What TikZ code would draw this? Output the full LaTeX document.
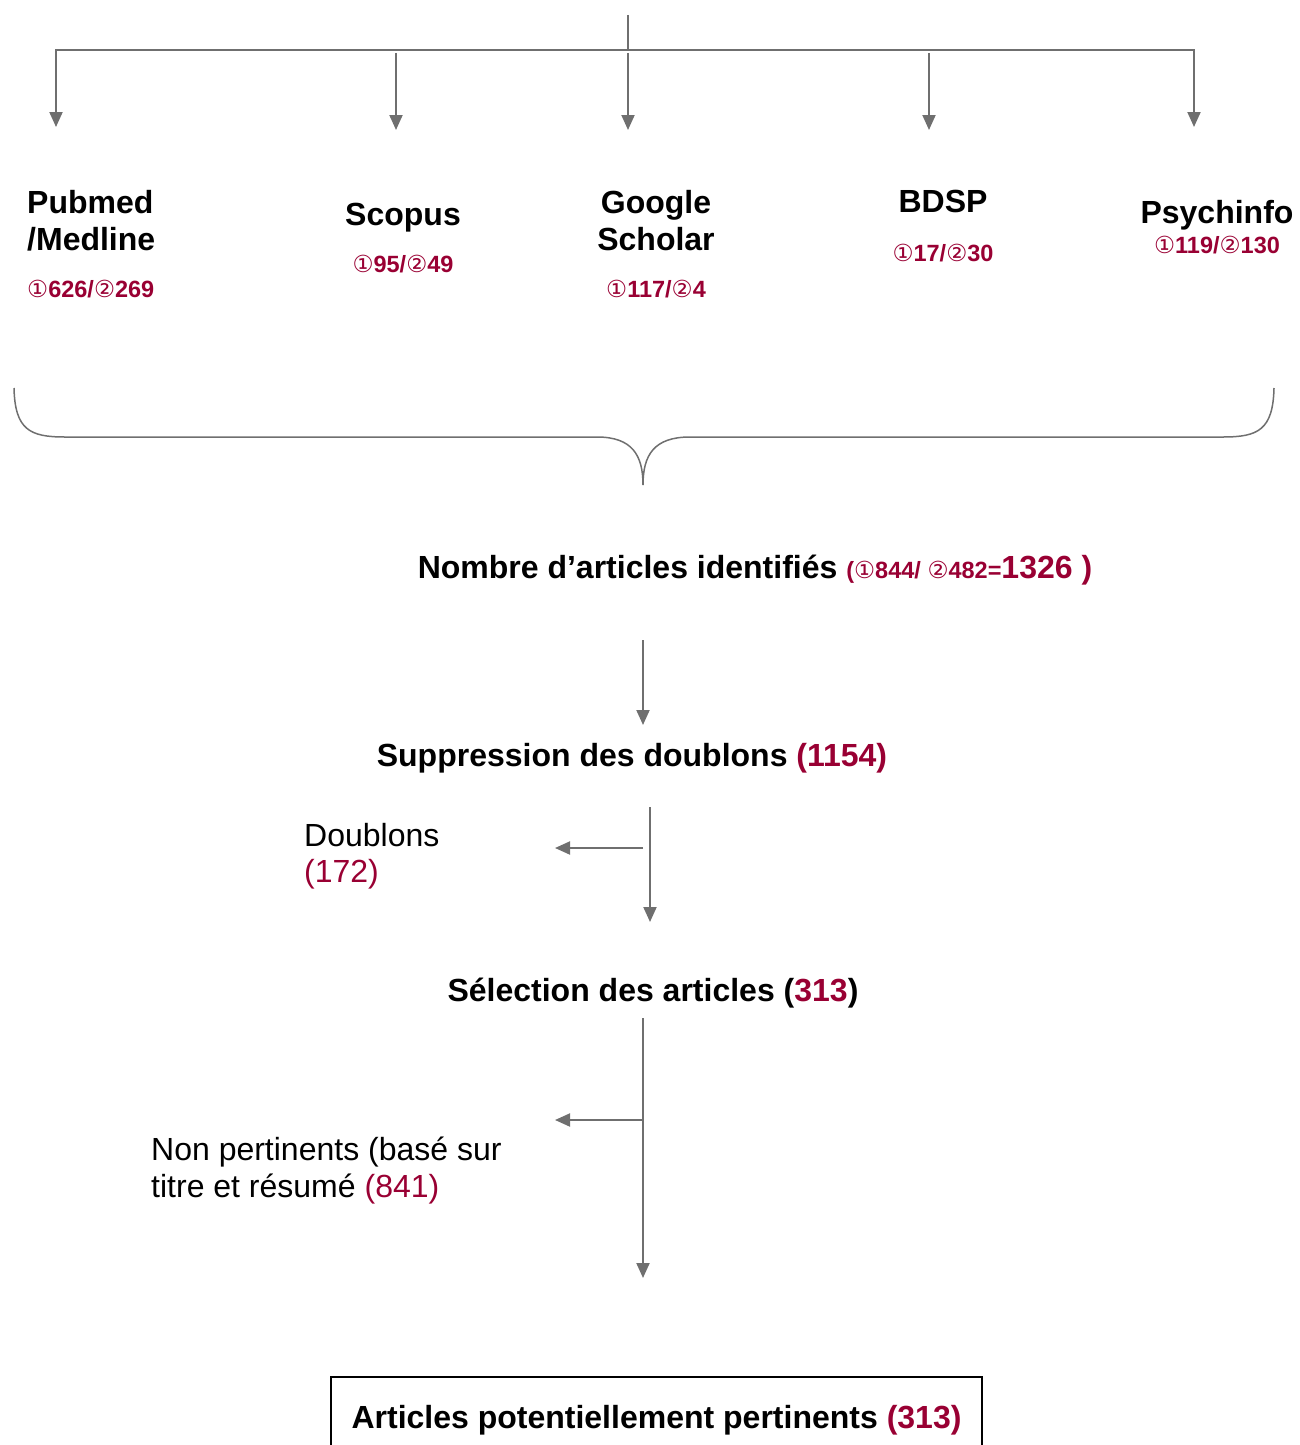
\documentclass[tikz,border=0pt]{standalone}
\usepackage{fontspec}
\setmainfont{Liberation Sans}
\newfontfamily\circfont{DejaVu Sans}
\usetikzlibrary{arrows.meta}
\definecolor{numred}{HTML}{990033}
\definecolor{linegray}{HTML}{6F6F6F}
\newcommand{\cone}{{\circfont\mdseries ①}}
\newcommand{\ctwo}{{\circfont\mdseries ②}}

\begin{document}
\begin{tikzpicture}
		[x=1pt,y=-1pt,
		src/.style={font=\fontsize{32}{37}\selectfont\bfseries, inner sep=0pt},
		cnt/.style={font=\fontsize{23.5}{27}\selectfont\bfseries, text=numred, inner sep=0pt},
		stage/.style={font=\fontsize{32}{37}\selectfont\bfseries, inner sep=0pt, anchor=base},
		note/.style={font=\fontsize{32}{37}\selectfont, inner sep=0pt, anchor=base west},
		arr/.style={draw=linegray, line width=2pt, -{Triangle[length=15pt,width=13pt]}},
		link/.style={draw=linegray, line width=2pt}]
		\clip (0,0) rectangle (1299,1445);

		% databases
		\node [src, anchor=base west] (pm1) at (27,213) {Pubmed};
		\node [src, anchor=base west] (pm2) at (27,250) {/Medline};
		\node [cnt, anchor=base west] (pmn) at (27,297) {\cone626/\ctwo269};
		\node [src, anchor=base] (sc1) at (403,225) {Scopus};
		\node [cnt, anchor=base] (scn) at (403,272) {\cone95/\ctwo49};
		\node [src, anchor=base] (gs1) at (656,213) {Google};
		\node [src, anchor=base] (gs2) at (656,250) {Scholar};
		\node [cnt, anchor=base] (gsn) at (656,297) {\cone117/\ctwo4};
		\node [src, anchor=base] (bd1) at (943,212) {BDSP};
		\node [cnt, anchor=base] (bdn) at (943,261) {\cone17/\ctwo30};
		\node [src, anchor=base] (ps1) at (1217,223) {Psychinfo};
		\node [cnt, anchor=base] (psn) at (1217,253) {\cone119/\ctwo130};

		\coordinate (top) at (628,15);
		\coordinate (hub) at (628,50);
		\coordinate (pme) at (56,127);
		\coordinate (pse) at (1194,127);
		\draw [link] (top) -- (hub);
		\draw [arr] (hub) -| (pme);
		\draw [arr] (hub) -| (pse);
		\foreach \n/\x in {sc/396,gs/628,bd/929}{
			\coordinate (\n a) at (\x,53);
			\coordinate (\n b) at (\x,130);
			\draw [arr] (\n a) -- (\n b);
		}

		% brace
		\coordinate (bl) at (14,388);
		\coordinate (br) at (1274,388);
		\coordinate (bt) at (643,485);
		\draw [linegray, line width=1.5pt] (bl) .. controls (15,430) and (30,437) .. (65,437) -- (597,437) .. controls (632,437) and (643,455) .. (bt);
		\draw [linegray, line width=1.5pt] (br) .. controls (1273,430) and (1258,437) .. (1223,437) -- (690,437) .. controls (654,437) and (643,455) .. (bt);

		% steps
		\node [stage] (ident) at (755,578) {Nombre d’articles identifiés {\color{numred}\fontsize{23.5}{27}\selectfont(\cone844/ \ctwo482=\fontsize{32}{37}\selectfont1326 )}};
		\node [stage] (dedup) at (632,766) {Suppression des doublons \textcolor{numred}{(1154)}};
		\node [note] (dup1) at (304,846) {Doublons};
		\node [note, text=numred] (dup2) at (304,882) {(172)};
		\node [stage] (sel) at (653,1001) {Sélection des articles (\textcolor{numred}{313})};
		\node [note] (np1) at (151,1160) {Non pertinents (basé sur};
		\node [note] (np2) at (151,1197) {titre et résumé \textcolor{numred}{(841)}};
		\node [stage, anchor=north, draw=black, line width=2pt, minimum width=651pt, minimum height=86pt] (final) at (656.5,1376) {Articles potentiellement pertinents \textcolor{numred}{(313)}};

		\coordinate (i1) at (643,640);
		\coordinate (i2) at (643,725);
		\coordinate (d1) at (650,807);
		\coordinate (d2) at (650,922);
		\coordinate (d3) at (643,848);
		\coordinate (d4) at (555,848);
		\coordinate (s1) at (643,1018);
		\coordinate (s2) at (643,1278);
		\coordinate (s3) at (643,1120);
		\coordinate (s4) at (555,1120);
		\draw [arr] (i1) -- (i2);
		\draw [arr] (d1) -- (d2);
		\draw [arr] (d3) -- (d4);
		\draw [arr] (s1) -- (s2);
		\draw [arr] (s3) -- (s4);

	\end{tikzpicture}
\end{document}
